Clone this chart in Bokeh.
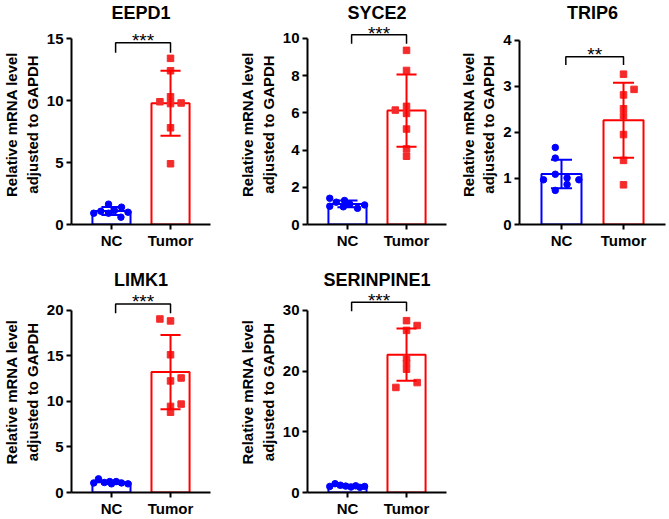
import numpy as np
from bokeh.plotting import figure
from bokeh.layouts import column, row
from bokeh.models import FixedTicker, Range1d
from bokeh.core.properties import value
from bokeh.embed import file_html
from bokeh.resources import INLINE

groups = ["NC", "Tumor"]

eepd1_nc = [0.91, 1.07, 1.64, 0.91, 1.13, 1.40, 0.59, 0.99]
eepd1_nc_dx = [-0.30, -0.18, -0.05, -0.05, 0.05, 0.17, 0.16, 0.28]
eepd1_tumor = [13.4, 12.4, 10.3, 9.9, 9.75, 9.8, 7.8, 4.9]
eepd1_tumor_dx = [0, 0, 0, -0.18, 0, 0.18, 0, 0]

syce2_nc = [1.41, 1.20, 1.29, 1.09, 0.98, 0.95, 0.87, 1.05]
syce2_nc_dx = [-0.30, -0.19, -0.05, 0.04, -0.30, -0.07, 0.17, 0.29]
syce2_tumor = [9.36, 8.28, 6.35, 6.15, 5.97, 5.13, 4.06, 3.67]
syce2_tumor_dx = [0, 0, 0, -0.19, 0, 0, 0, 0]

trip6_nc = [1.67, 1.44, 1.09, 0.97, 1.01, 0.97, 0.87, 0.74]
trip6_nc_dx = [-0.10, -0.10, -0.10, -0.29, 0.09, 0.28, 0.09, -0.10]
trip6_tumor = [3.26, 2.93, 2.81, 2.51, 2.36, 1.95, 1.39, 0.86]
trip6_tumor_dx = [0, 0.17, 0, 0, 0, 0, 0, 0]

limk1_nc = [1.05, 1.50, 1.10, 1.20, 0.95, 1.20, 1.05, 0.95]
limk1_nc_dx = [-0.30, -0.22, -0.12, -0.03, 0.00, 0.08, 0.17, 0.28]
limk1_tumor = [19.06, 18.85, 15.13, 12.26, 12.58, 9.71, 9.46, 8.82]
limk1_tumor_dx = [-0.18, 0, 0, 0, 0.18, 0.18, 0, 0]

serinpine1_nc = [1.00, 1.45, 1.20, 1.05, 0.90, 1.10, 0.85, 1.00]
serinpine1_nc_dx = [-0.30, -0.21, -0.12, -0.03, 0.06, 0.14, 0.21, 0.29]
serinpine1_tumor = [28.3, 27.5, 26.7, 22.1, 21.3, 20.3, 18.1, 17.3]
serinpine1_tumor_dx = [0, 0.18, 0, 0, 0, 0, 0.18, -0.18]

eepd1_ticks = [0, 5, 10, 15]
syce2_ticks = [0, 2, 4, 6, 8, 10]
trip6_ticks = [0, 1, 2, 3, 4]
limk1_ticks = [0, 5, 10, 15, 20]
serinpine1_ticks = [0, 10, 20, 30]

# significance: label, bracket top, bracket drop end, label height
eepd1_sig = ["***", 14.65, 13.85, 15.24]
syce2_sig = ["***", 10.2, 9.72, 10.53]
trip6_sig = ["**", 3.64, 3.46, 3.79]
limk1_sig = ["***", 20.7, 19.7, 21.5]
serinpine1_sig = ["***", 31.35, 29.85, 32.5]

FONT = "Liberation Sans"
BLUE = "#0000FF"
RED = "#FF0000"
YLABEL = "Relative mRNA level\nadjusted to GAPDH"
XR = (-0.677, 1.677)


def panel(title, nc, nc_dx, tu, tu_dx, ticks, sig, yend,
          width, height, bl, br, bt, bb):
    p = figure(width=width, height=height, output_backend="svg",
               toolbar_location=None, x_range=Range1d(*XR),
               y_range=Range1d(0, yend),
               min_border_left=bl, min_border_right=br,
               min_border_top=bt, min_border_bottom=bb)
    p.outline_line_color = None
    p.grid.visible = False
    p.background_fill_color = "white"

    p.title.text = title
    p.title.align = "center"
    p.title.vertical_align = "top"
    p.title.text_font = FONT
    p.title.text_font_size = "18px"
    p.title.text_font_style = "bold"
    p.title.text_color = "black"
    p.title.standoff = 0

    xa = p.xaxis[0]
    xa.ticker = FixedTicker(ticks=[0, 1])
    xa.major_label_overrides = {0: groups[0], 1: groups[1]}
    xa.minor_tick_line_color = None
    xa.major_tick_in = 0
    xa.major_tick_out = 5
    xa.axis_line_width = 2
    xa.major_tick_line_width = 2
    xa.major_label_text_font = FONT
    xa.major_label_text_font_size = "15px"
    xa.major_label_text_font_style = "bold"
    xa.major_label_text_color = "black"
    xa.major_label_standoff = 2

    ya = p.yaxis[0]
    ya.ticker = FixedTicker(ticks=ticks)
    ya.bounds = (ticks[0], ticks[-1])
    ya.minor_tick_line_color = None
    ya.major_tick_in = 0
    ya.major_tick_out = 5
    ya.axis_line_width = 2
    ya.major_tick_line_width = 2
    ya.major_label_text_font = FONT
    ya.major_label_text_font_size = "15px"
    ya.major_label_text_font_style = "bold"
    ya.major_label_text_color = "black"
    ya.major_label_standoff = 3
    ya.axis_label = YLABEL
    ya.axis_label_text_font = FONT
    ya.axis_label_text_font_size = "15px"
    ya.axis_label_text_font_style = "bold"
    ya.axis_label_text_color = "black"
    ya.axis_label_standoff = 3

    nc_a = np.array(nc)
    tu_a = np.array(tu)
    means = [nc_a.mean(), tu_a.mean()]
    sds = [nc_a.std(ddof=1), tu_a.std(ddof=1)]
    cols = [BLUE, RED]
    xs = [0, 1]
    bw = 0.645
    cap = 0.34

    p.vbar(x=xs, top=means, width=bw, fill_color="white",
           line_color=cols, line_width=2)

    p.scatter(x=[0 + d for d in nc_dx], y=nc, marker="circle", size=6.5,
              fill_color=BLUE, line_color=BLUE)
    p.scatter(x=[1 + d for d in tu_dx], y=tu, marker="square", size=6.5,
              fill_color="#F52A2A", line_color="#F52A2A")

    lo = [m - s for m, s in zip(means, sds)]
    hi = [m + s for m, s in zip(means, sds)]
    p.segment(x0=xs, y0=lo, x1=xs, y1=hi, line_color=cols, line_width=2)
    p.segment(x0=[x - cap / 2 for x in xs], y0=hi,
              x1=[x + cap / 2 for x in xs], y1=hi, line_color=cols, line_width=2)
    p.segment(x0=[x - cap / 2 for x in xs], y0=lo,
              x1=[x + cap / 2 for x in xs], y1=lo, line_color=cols, line_width=2)

    label, btop, bdrop, ly = sig
    bx0 = 0.07
    p.line(x=[bx0, bx0, 1, 1], y=[bdrop, btop, btop, bdrop],
           line_color="black", line_width=1.5)
    p.text(x=[(bx0 + 1) / 2], y=[ly], text=[label], text_align="center",
           text_baseline="middle", text_font=value(FONT),
           text_font_size="19px", text_color="black", y_offset=5)
    return p


p1 = panel("EEPD1", eepd1_nc, eepd1_nc_dx, eepd1_tumor, eepd1_tumor_dx,
           eepd1_ticks, eepd1_sig, 16.13, 236, 269, 64, 26, 24, 45)
p2 = panel("SYCE2", syce2_nc, syce2_nc_dx, syce2_tumor, syce2_tumor_dx,
           syce2_ticks, syce2_sig, 10.75, 219, 269, 64, 9, 24, 45)
p3 = panel("TRIP6", trip6_nc, trip6_nc_dx, trip6_tumor, trip6_tumor_dx,
           trip6_ticks, trip6_sig, 4.337, 214, 269, 64, 4, 24, 39)
p4 = panel("LIMK1", limk1_nc, limk1_nc_dx, limk1_tumor, limk1_tumor_dx,
           limk1_ticks, limk1_sig, 22.08, 236, 250, 64, 26, 20, 24)
p5 = panel("SERINPINE1", serinpine1_nc, serinpine1_nc_dx, serinpine1_tumor,
           serinpine1_tumor_dx, serinpine1_ticks, serinpine1_sig,
           33.1, 219, 250, 64, 9, 20, 24)

layout = column(row(p1, p2, p3), row(p4, p5))
open("out.html", "w").write(file_html(layout, INLINE))
